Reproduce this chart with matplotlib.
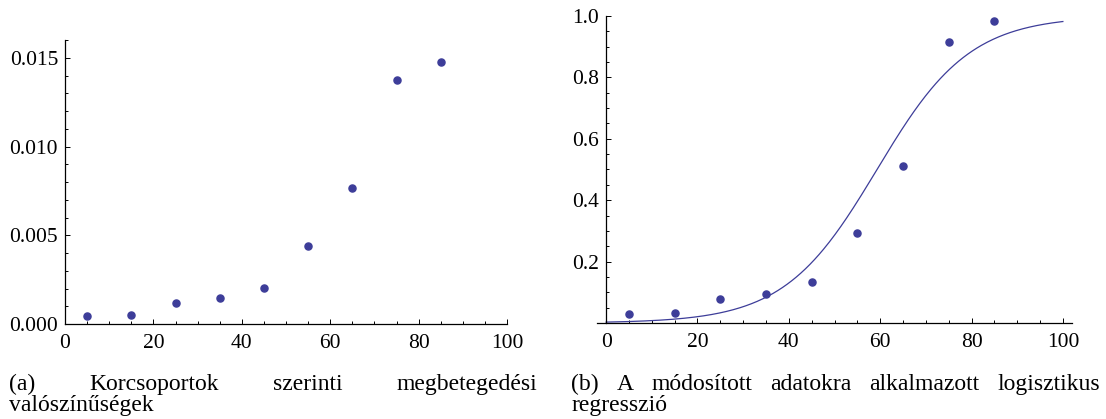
import numpy as np
import matplotlib
matplotlib.use('Agg')
import matplotlib.pyplot as plt
from matplotlib.ticker import MultipleLocator, FixedLocator

# age group midpoints and observed incidence probabilities
ages = [5, 15, 25, 35, 45, 55, 65, 75, 85]
prob = [0.00043, 0.00049, 0.00118, 0.00145, 0.00203, 0.00442, 0.00769, 0.01372, 0.01476]

# rescaled data used for the logistic fit
prob_mod = [0.028, 0.031, 0.078, 0.096, 0.134, 0.294, 0.512, 0.915, 0.984]

# fitted logistic coefficients: p(x) = 1 / (1 + exp(-(b0 + b1 x)))
b0 = -5.83
b1 = 0.0983

caption_a = [['(a)', 'Korcsoportok', 'szerinti', 'megbetegedési'], ['valószínűségek']]
caption_b = [['(b)', 'A', 'módosított', 'adatokra', 'alkalmazott', 'logisztikus'], ['regresszió']]

col = (0.24, 0.24, 0.6)
W, H = 1106, 419

plt.rcParams['font.family'] = ['Liberation Serif']
fig = plt.figure(figsize=(W / 100, H / 100), dpi=100)


def px_axes(x0, y0, x1, y1):
    # axes rectangle given in pixel coords, top-left origin
    return fig.add_axes([x0 / W, 1 - y1 / H, (x1 - x0) / W, (y1 - y0) / H])


def style(ax):
    for s in ['top', 'right']:
        ax.spines[s].set_visible(False)
    for s in ['left', 'bottom']:
        ax.spines[s].set_linewidth(0.9)
    ax.spines['left'].set_position(('data', 0))
    ax.tick_params(which='both', direction='in', width=0.7, labelsize=15.5)
    ax.tick_params(which='major', length=3.5)
    ax.tick_params(which='minor', length=2)
    ax.tick_params(axis='y', pad=5)
    ax.tick_params(axis='x', pad=7)
    ax.xaxis.set_major_locator(FixedLocator([0, 20, 40, 60, 80, 100]))
    ax.xaxis.set_minor_locator(MultipleLocator(5))


ax1 = px_axes(65, 40, 507, 324)
ax1.scatter(ages, prob, s=26, color=col, zorder=3, clip_on=False)
ax1.set_xlim(0, 100)
ax1.set_ylim(0, 0.016)
style(ax1)
ax1.yaxis.set_major_locator(FixedLocator([0, 0.005, 0.010, 0.015]))
ax1.yaxis.set_minor_locator(MultipleLocator(0.001))
ax1.set_yticklabels(['0.000', '0.005', '0.010', '0.015'])

ax2 = px_axes(597, 16, 1072, 323)
xs = np.linspace(0, 100, 400)
ax2.plot(xs, 1 / (1 + np.exp(-(b0 + b1 * xs))), color=col, lw=0.9)
ax2.scatter(ages, prob_mod, s=26, color=col, zorder=3, clip_on=False)
ax2.set_xlim(-2, 102)
ax2.set_ylim(0, 1.0)
style(ax2)
ax2.yaxis.set_major_locator(FixedLocator([0.2, 0.4, 0.6, 0.8, 1.0]))
ax2.yaxis.set_minor_locator(MultipleLocator(0.05))
ax2.set_yticklabels(['0.2', '0.4', '0.6', '0.8', '1.0'])

renderer = fig.canvas.get_renderer()
cap_font = dict(family='Liberation Serif', fontsize=17, va='baseline')


def justify(words, x0, x1, y, stretch=True):
    # spread the words of one caption line evenly between x0 and x1 (pixels)
    texts = [fig.text(0, 1 - y / H, w, **cap_font) for w in words]
    widths = [t.get_window_extent(renderer).width for t in texts]
    if stretch and len(words) > 1:
        gap = (x1 - x0 - sum(widths)) / (len(words) - 1)
    else:
        gap = 5
    x = x0
    for t, w in zip(texts, widths):
        t.set_x(x / W)
        x += w + gap


justify(caption_a[0], 9, 537, 390)
justify(caption_a[1], 9, 537, 411, stretch=False)
justify(caption_b[0], 571, 1100, 390)
justify(caption_b[1], 571, 1100, 411, stretch=False)

fig.savefig('out.png', dpi=100)
